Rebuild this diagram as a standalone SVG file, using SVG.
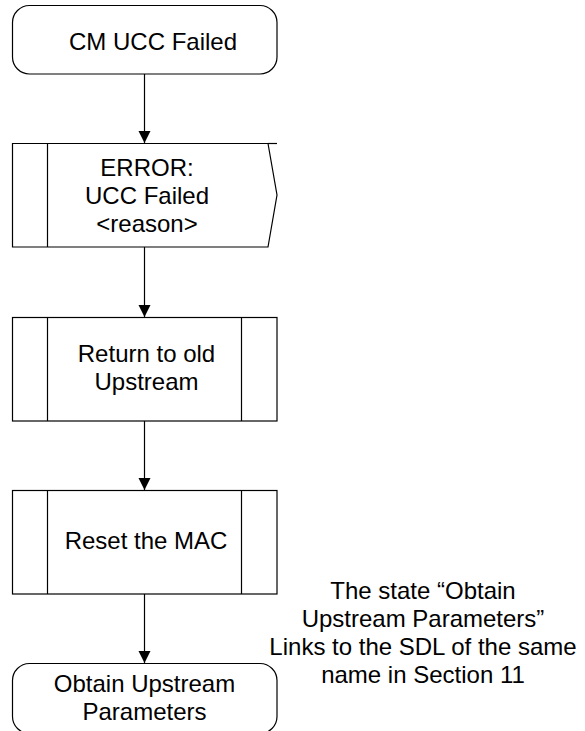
<svg xmlns="http://www.w3.org/2000/svg" width="585" height="731" viewBox="0 0 585 731">
<style>
.s{fill:#fff;stroke:#000;stroke-width:1.2}
.l{fill:none;stroke:#000;stroke-width:1.2}
text{font-family:"Liberation Sans",Arial,sans-serif;font-size:24px;fill:#000;text-anchor:middle}
</style>
<defs>
<marker id="ah" markerWidth="12" markerHeight="13" refX="13" refY="6.5" viewBox="0 0 13 13" orient="auto" markerUnits="userSpaceOnUse">
<path d="M0,0 L13,6.5 L0,13 Z" fill="#000"/>
</marker>
</defs>
<g id="connectors">
<line class="l" x1="144.5" y1="74" x2="144.5" y2="143" marker-end="url(#ah)"/>
<line class="l" x1="144.5" y1="247" x2="144.5" y2="317" marker-end="url(#ah)"/>
<line class="l" x1="144.5" y1="421" x2="144.5" y2="490" marker-end="url(#ah)"/>
<line class="l" x1="144.5" y1="594" x2="144.5" y2="663" marker-end="url(#ah)"/>
</g>
<g id="start">
<rect class="s" x="12.5" y="5.5" width="264.5" height="68.5" rx="17" ry="17"/>
<text x="153" y="50">CM UCC Failed</text>
</g>
<g id="input">
<path class="s" d="M12.5,143.5 H268 L277,195 L268,247 H12.5 Z"/>
<line class="l" x1="268" y1="143.5" x2="277" y2="143.5"/>
<line class="l" x1="47.5" y1="143.5" x2="47.5" y2="247"/>
<text x="147" y="176">ERROR:</text>
<text x="147" y="204">UCC Failed</text>
<text x="147" y="232">&lt;reason&gt;</text>
</g>
<g id="proc1">
<rect class="s" x="12.5" y="317.5" width="264.5" height="103.5"/>
<line class="l" x1="47.5" y1="317.5" x2="47.5" y2="421"/>
<line class="l" x1="241.5" y1="317.5" x2="241.5" y2="421"/>
<text x="146.5" y="362">Return to old</text>
<text x="146.5" y="390">Upstream</text>
</g>
<g id="proc2">
<rect class="s" x="12.5" y="490.5" width="264.5" height="103.5"/>
<line class="l" x1="47.5" y1="490.5" x2="47.5" y2="594"/>
<line class="l" x1="241.5" y1="490.5" x2="241.5" y2="594"/>
<text x="146" y="549">Reset the MAC</text>
</g>
<g id="end">
<rect class="s" x="12.5" y="663.5" width="264.5" height="70" rx="17" ry="17"/>
<text x="144.5" y="692">Obtain Upstream</text>
<text x="144.5" y="720">Parameters</text>
</g>
<g id="note">
<text x="423" y="599">The state “Obtain</text>
<text x="423" y="627">Upstream Parameters”</text>
<text x="423" y="655">Links to the SDL of the same</text>
<text x="423" y="683">name in Section 11</text>
</g>
</svg>
